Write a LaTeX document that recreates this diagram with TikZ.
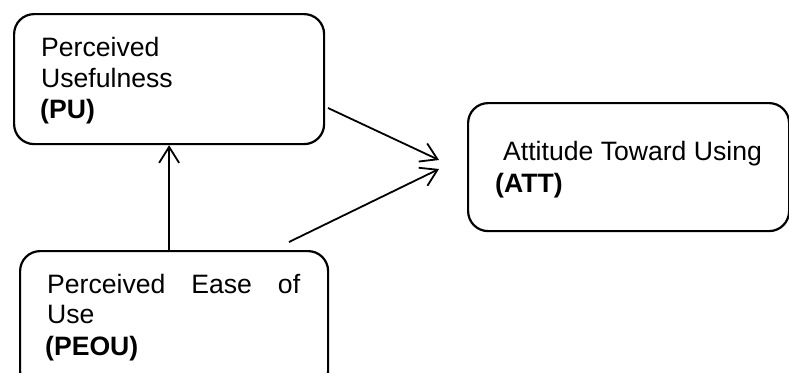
\documentclass[tikz,border=0pt]{standalone}
\usepackage{fontspec}
\setmainfont{Liberation Sans}
\usetikzlibrary{arrows.meta}
\begin{document}
\begin{tikzpicture}[x=1pt,y=-1pt,
  box/.style={draw, line width=2.2pt, rounded corners=20pt, anchor=north west, inner sep=0pt},
  lbl/.style={anchor=base west, inner sep=0pt, font=\fontsize{26.6}{30}\selectfont},
  conn/.style={line width=1.8pt, -{Straight Barb[length=16pt,width=20pt,line width=1.8pt]}}]
\useasboundingbox (0,0) rectangle (789,372);
\clip (0,0) rectangle (789,372);
% boxes
\node[box, minimum width=310pt, minimum height=130pt] (pu) at (13,13) {};
\node[box, minimum width=308pt, minimum height=140pt] (peou) at (19,250) {};
\node[box, minimum width=321pt, minimum height=128pt] (att) at (467,102) {};
% texts
\node[lbl] (pu1) at (41,56) {Perceived};
\node[lbl] (pu2) at (41,87) {Usefulness};
\node[lbl] (pu3) at (40,118) {\bfseries (PU)};
\node[lbl] (pe1) at (47,293) {\makebox[253pt][l]{Perceived\hfill Ease\hfill of}};
\node[lbl] (pe2) at (47,323) {Use};
\node[lbl] (pe3) at (45,355) {\bfseries (PEOU)};
\node[lbl] (at1) at (503,160) {Attitude Toward Using};
\node[lbl] (at2) at (495,192) {\bfseries (ATT)};
% connectors
\coordinate (s1) at (328,108);
\coordinate (e1) at (439,160);
\coordinate (s2) at (289,242);
\coordinate (e2) at (439,169);
\draw[conn] (peou.north -| pu.south) -- (pu.south);
\draw[conn] (s1) -- (e1);
\draw[conn] (s2) -- (e2);
\end{tikzpicture}
\end{document}
